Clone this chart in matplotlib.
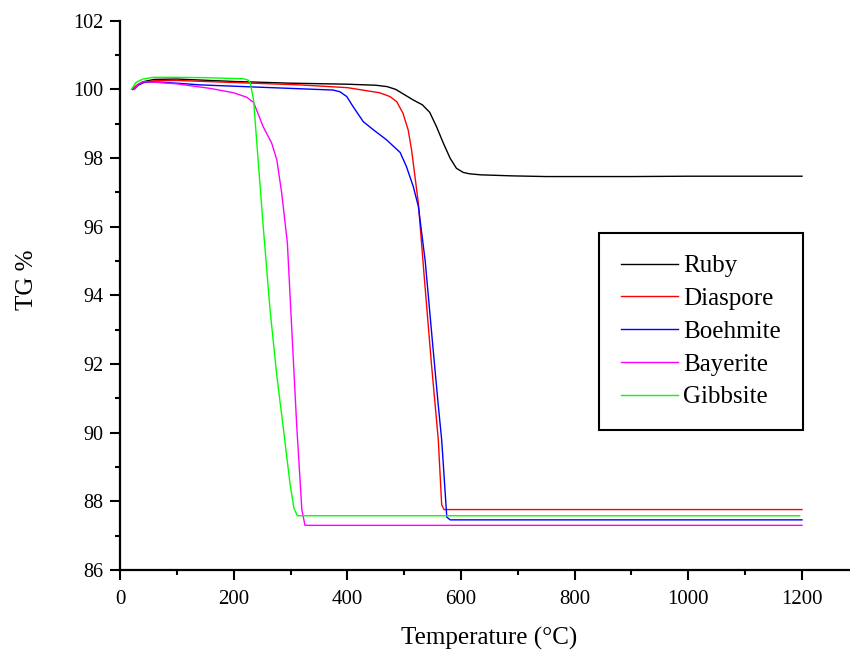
import numpy as np
import matplotlib
matplotlib.use('Agg')
import matplotlib.pyplot as plt
from matplotlib.ticker import MultipleLocator

plt.rcParams['font.family'] = ['Liberation Serif', 'DejaVu Serif']

#------------------ Datos
ruby_t  = [22, 30, 40, 60, 100, 200, 300, 400, 450, 470, 485, 500, 516, 532, 545, 557, 569, 581, 592, 604, 615, 635, 690, 750, 900, 1000, 1200]
ruby_tg = [100.0, 100.12, 100.22, 100.29, 100.3, 100.23, 100.18, 100.15, 100.12, 100.08, 100.0, 99.85, 99.69, 99.55, 99.33, 98.91, 98.43, 97.99, 97.70, 97.58, 97.54, 97.51, 97.48, 97.46, 97.46, 97.47, 97.47]

diasp_t  = [22, 30, 40, 60, 100, 200, 317, 400, 457, 475, 487, 498, 507, 513, 519, 525, 535, 548, 560, 566, 570, 1200]
diasp_tg = [100.0, 100.12, 100.2, 100.25, 100.26, 100.2, 100.13, 100.05, 99.90, 99.79, 99.64, 99.30, 98.82, 98.24, 97.46, 96.68, 94.6, 92.0, 89.8, 87.9, 87.76, 87.76]

boeh_t  = [25, 32, 42, 55, 100, 141, 250, 375, 387, 399, 410, 428, 446, 469, 493, 504, 516, 525, 537, 550, 560, 566, 575, 581, 1200]
boeh_tg = [100.0, 100.12, 100.2, 100.22, 100.18, 100.13, 100.06, 99.98, 99.93, 99.79, 99.50, 99.06, 98.82, 98.53, 98.16, 97.75, 97.17, 96.59, 95.0, 92.6, 90.8, 89.79, 87.54, 87.46, 87.46]

bayer_t  = [25, 32, 41, 60, 100, 158, 200, 223, 235, 252, 267, 276, 284.5, 294.5, 302, 311, 320, 325.5, 1200]
bayer_tg = [100.0, 100.15, 100.22, 100.21, 100.16, 100.03, 99.90, 99.77, 99.62, 98.91, 98.43, 97.94, 96.98, 95.52, 93.09, 90.18, 87.75, 87.30, 87.30]

gibb_t  = [20, 28, 40, 58, 100, 150, 217, 225, 229, 235, 243, 252, 264, 276, 287, 299, 306, 312, 1196]
gibb_tg = [100.0, 100.2, 100.3, 100.35, 100.35, 100.34, 100.31, 100.27, 100.2, 99.69, 97.94, 96.0, 93.58, 91.64, 90.18, 88.53, 87.80, 87.58, 87.58]

#------------------ Figura
fig = plt.figure(figsize=(8.5, 6.55), dpi=100)
ax = fig.add_axes([0.1412, 0.1298, 0.8588, 0.8386])

ax.plot(ruby_t,  ruby_tg,  color='black',   lw=1.0, label='Ruby')
ax.plot(diasp_t, diasp_tg, color='#ff0000', lw=1.0, label='Diaspore')
ax.plot(boeh_t,  boeh_tg,  color='#0000ff', lw=1.0, label='Boehmite')
ax.plot(bayer_t, bayer_tg, color='#ff00ff', lw=1.0, label='Bayerite')
ax.plot(gibb_t,  gibb_tg,  color='#00ff00', lw=1.0, label='Gibbsite')

ax.set_xlim(0, 1284.5)
ax.set_ylim(86, 102)
ax.xaxis.set_major_locator(MultipleLocator(200))
ax.xaxis.set_minor_locator(MultipleLocator(100))
ax.yaxis.set_major_locator(MultipleLocator(2))
ax.yaxis.set_minor_locator(MultipleLocator(1))
ax.set_xticks([0, 200, 400, 600, 800, 1000, 1200])

for s in ['top', 'right']:
    ax.spines[s].set_visible(False)
for s in ['left', 'bottom']:
    ax.spines[s].set_linewidth(1.6)

ax.tick_params(which='major', direction='out', length=7.2, width=1.5, labelsize=14.5, pad=5)
ax.tick_params(axis='x', which='major', labelsize=15, pad=7)
ax.tick_params(which='minor', direction='out', length=3.6, width=1.5)

ax.set_xlabel('Temperature (°C)', fontsize=18)
ax.set_ylabel('TG %', fontsize=18)
ax.xaxis.set_label_coords(0.506, -0.103)
ax.yaxis.set_label_coords(-0.113, 0.528)

leg = ax.legend(loc='upper left', bbox_to_anchor=(0.656, 0.6135), fontsize=18,
                frameon=True, fancybox=False, shadow=False, borderpad=0.88,
                labelspacing=0.41, handlelength=2.28, handletextpad=0.22,
                borderaxespad=0)
leg.get_frame().set_edgecolor('black')
leg.get_frame().set_linewidth(1.5)
leg.get_frame().set_alpha(1)

plt.savefig('out.png', dpi=100)
